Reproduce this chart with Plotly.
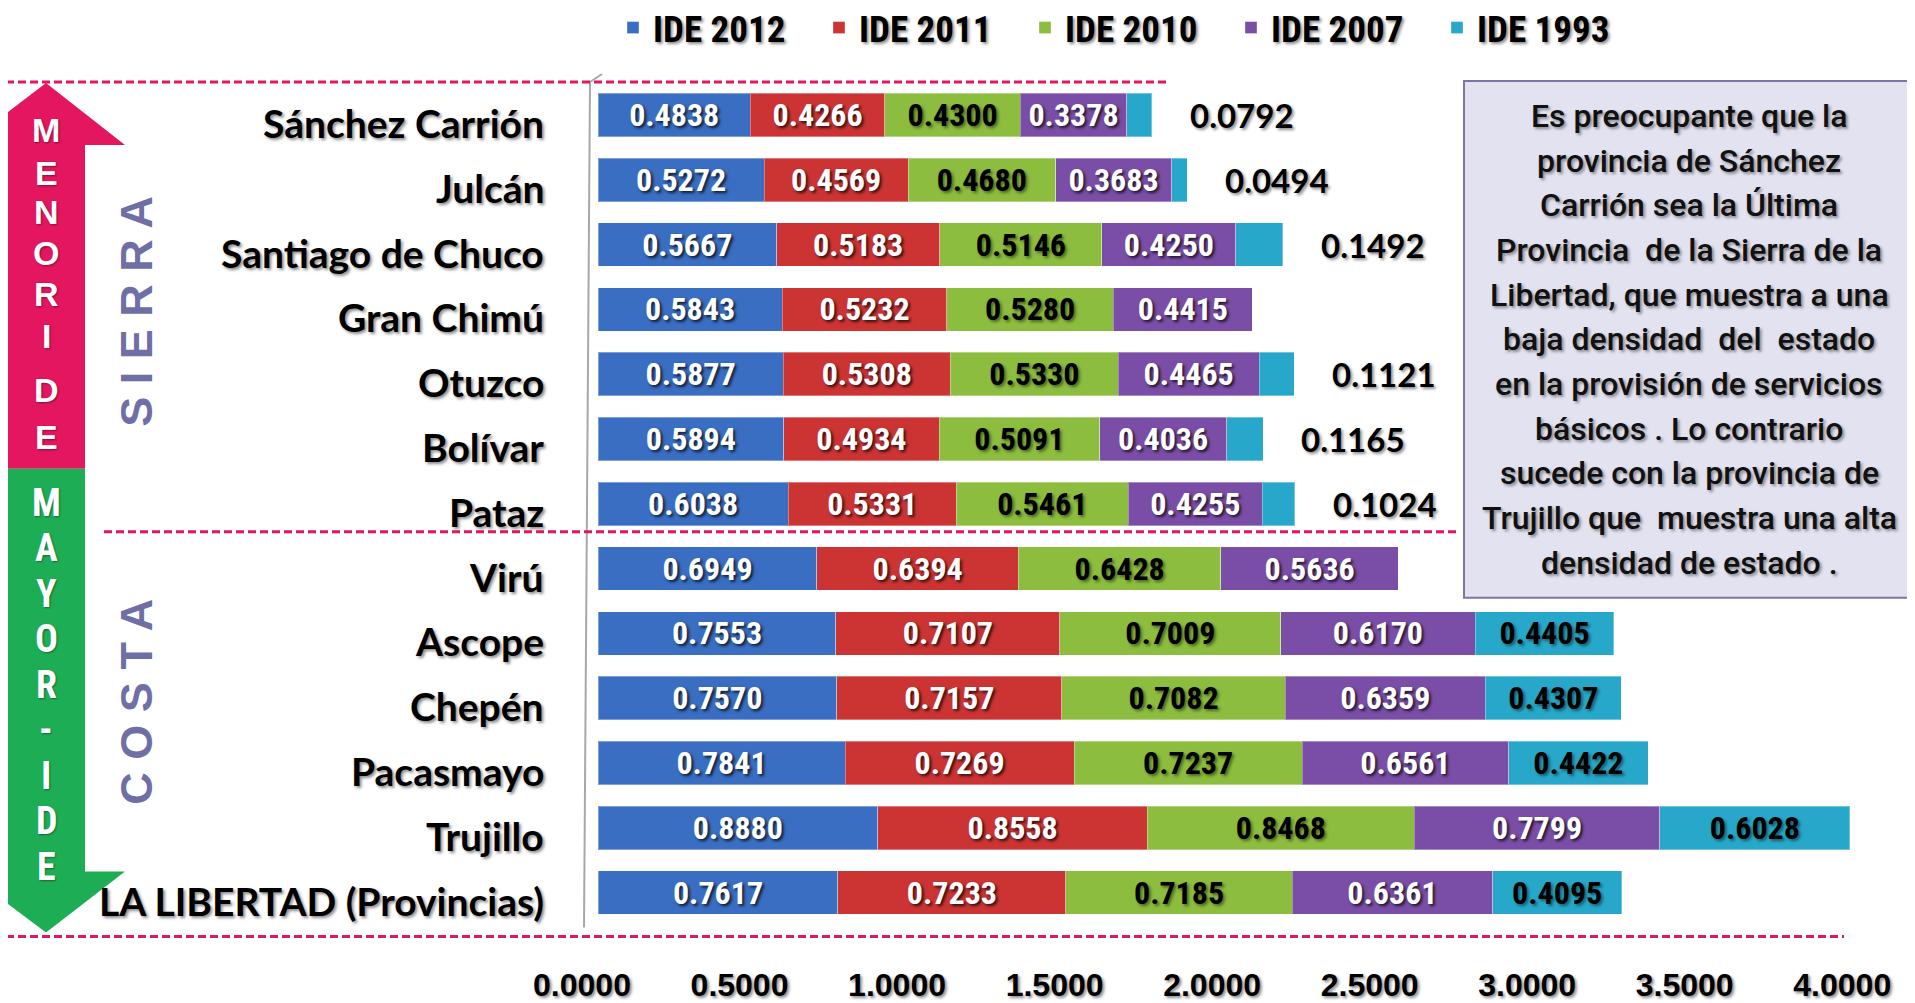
import plotly.graph_objects as go

# ---------------- data ----------------
provincias = ["Sánchez Carrión", "Julcán", "Santiago de Chuco", "Gran Chimú", "Otuzco",
              "Bolívar", "Pataz", "Virú", "Ascope", "Chepén", "Pacasmayo", "Trujillo",
              "LA LIBERTAD (Provincias)"]
ide_2012 = [0.4838, 0.5272, 0.5667, 0.5843, 0.5877, 0.5894, 0.6038, 0.6949, 0.7553, 0.7570, 0.7841, 0.8880, 0.7617]
ide_2011 = [0.4266, 0.4569, 0.5183, 0.5232, 0.5308, 0.4934, 0.5331, 0.6394, 0.7107, 0.7157, 0.7269, 0.8558, 0.7233]
ide_2010 = [0.4300, 0.4680, 0.5146, 0.5280, 0.5330, 0.5091, 0.5461, 0.6428, 0.7009, 0.7082, 0.7237, 0.8468, 0.7185]
ide_2007 = [0.3378, 0.3683, 0.4250, 0.4415, 0.4465, 0.4036, 0.4255, 0.5636, 0.6170, 0.6359, 0.6561, 0.7799, 0.6361]
ide_1993 = [0.0792, 0.0494, 0.1492, 0.0, 0.1121, 0.1165, 0.1024, 0.0, 0.4405, 0.4307, 0.4422, 0.6028, 0.4095]
sierra_n = 7  # first 7 provinces are Sierra, rest Costa
x_ticks = [0.0, 0.5, 1.0, 1.5, 2.0, 2.5, 3.0, 3.5, 4.0]

series = [
    ("IDE 2012", ide_2012, "#3A6EC2", "white"),
    ("IDE 2011", ide_2011, "#CC3434", "white"),
    ("IDE 2010", ide_2010, "#8CBD3E", "black"),
    ("IDE 2007", ide_2007, "#7A4EA6", "white"),
    ("IDE 1993", ide_1993, "#27A8CA", "black"),
]

note_lines = [
    "Es preocupante que la",
    "provincia de Sánchez",
    "Carrión sea la Última",
    "Provincia  de la Sierra de la",
    "Libertad, que muestra a una",
    "baja densidad  del  estado",
    "en la provisión de servicios",
    "básicos . Lo contrario",
    "sucede con la provincia de",
    "Trujillo que  muestra una alta",
    "densidad de estado .",
]

# ---------------- layout geometry ----------------
OFF = 8                      # default page margin around the figure
W, H = 1915 - OFF, 1003 - OFF
# plot area in page pixels
PL, PR, PT, PB = 598, 1874, 82, 925.5
L, R_, T, B = PL - OFF, W - (PR - OFF), PT - OFF, H - (PB - OFF)
PW, PH = PR - PL, PB - PT
XMAX = 4.05

def px(xpage):
    return (xpage - PL) / PW

def py(ypage):
    return (PB - ypage) / PH

NARROW = "Liberation Sans Narrow, Roboto Condensed, Arial Narrow, sans-serif"
LABEL = "Lato, Open Sans, sans-serif"
ARIAL = "Liberation Sans, Arial, sans-serif"
SH_W = "2px 2px 3px rgba(0,0,0,0.75)"
SH_B = "2px 2px 3px rgba(0,0,0,0.45)"

fig = go.Figure()
for i, (name, vals, color, tcol) in enumerate(series):
    if name == "IDE 1993":
        texts = ["" if (k < sierra_n or v == 0) else f"{v:.4f}" for k, v in enumerate(vals)]
    else:
        texts = [f"{v:.4f}" if v > 0 else "" for v in vals]
    fig.add_trace(go.Bar(
        y=provincias, x=vals, name=name, orientation="h",
        marker=dict(color=color, line=dict(color="rgba(255,255,255,0.35)", width=1)),
        text=texts, textposition="inside", insidetextanchor="middle", textangle=0,
        constraintext="none",
        textfont=dict(family=NARROW, size=32, color=tcol, weight="bold",
                      shadow=SH_W if tcol == "white" else SH_B),
        hoverinfo="x+y+name",
    ))

annotations = []
# outside labels for small Sierra IDE 1993 values
for k in range(sierra_n):
    v = ide_1993[k]
    if v > 0:
        total = ide_2012[k] + ide_2011[k] + ide_2010[k] + ide_2007[k] + v
        annotations.append(dict(x=total, y=provincias[k], xref="x", yref="y",
                                text=f"{v:.4f}", showarrow=False, xanchor="left",
                                yanchor="middle", xshift=36,
                                font=dict(family=LABEL, size=33, color="black",
                                          weight="bold", shadow=SH_B)))
# row labels
for name in provincias:
    annotations.append(dict(x=0, y=name, xref="x", yref="y", text=name, showarrow=False,
                            xanchor="right", yanchor="middle", xshift=-52, yshift=-8,
                            font=dict(family=LABEL, size=39, color="black", weight="bold",
                                      shadow=SH_B)))
# arrow letters (page y positions)
pink_letters = list("MENORIDE")
pink_y = [130, 173, 212, 253, 294, 336, 390, 437]
for ch, yy in zip(pink_letters, pink_y):
    annotations.append(dict(x=px(46), y=py(yy), xref="paper", yref="paper", text=ch,
                            showarrow=False, xanchor="center", yanchor="middle",
                            font=dict(family=ARIAL, size=34, color="white", weight="bold",
                                      shadow="1px 1px 2px rgba(0,0,0,0.4)")))
green_letters = list("MAYOR-IDE")
for j, ch in enumerate(green_letters):
    yy = 503 + j * 45.5
    annotations.append(dict(x=px(46), y=py(yy), xref="paper", yref="paper", text=ch,
                            showarrow=False, xanchor="center", yanchor="middle",
                            font=dict(family=NARROW, size=38, color="white", weight="bold",
                                      shadow="1px 1px 2px rgba(0,0,0,0.4)")))
# SIERRA / COSTA
annotations.append(dict(x=px(137), y=py(311), xref="paper", yref="paper", text="S I E R R A",
                        textangle=-90, showarrow=False, xanchor="center", yanchor="middle",
                        font=dict(family=ARIAL, size=45, color="#6F6FA6", weight="bold")))
annotations.append(dict(x=px(137), y=py(702), xref="paper", yref="paper", text="C O S T A",
                        textangle=-90, showarrow=False, xanchor="center", yanchor="middle",
                        font=dict(family=ARIAL, size=45, color="#6F6FA6", weight="bold")))
# note box text
for j, line in enumerate(note_lines):
    yy = 116 + j * 44.7
    annotations.append(dict(x=px(1689), y=py(yy), xref="paper", yref="paper", text=line,
                            showarrow=False, xanchor="center", yanchor="middle",
                            font=dict(family="Roboto, sans-serif", size=32, color="#111111",
                                      weight=500, shadow="2px 2px 3px rgba(0,0,0,0.4)")))

shapes = []
pink = "#E3165F"
green = "#1DAE55"
# arrows
x0s, x1s, hl, hr, cx = 5, 85, -35, 125, 46
pink_path = (f"M {px(x0s)},{py(469)} L {px(x0s)},{py(145)} L {px(hl)},{py(145)} "
             f"L {px(cx)},{py(83)} L {px(hr)},{py(145)} L {px(x1s)},{py(145)} L {px(x1s)},{py(469)} Z")
green_path = (f"M {px(x0s)},{py(469)} L {px(x0s)},{py(872)} L {px(hl)},{py(872)} "
              f"L {px(cx)},{py(933)} L {px(hr)},{py(872)} L {px(x1s)},{py(872)} L {px(x1s)},{py(469)} Z")
shapes.append(dict(type="path", path=pink_path, xref="paper", yref="paper",
                   fillcolor=pink, line=dict(width=0), layer="below"))
shapes.append(dict(type="path", path=green_path, xref="paper", yref="paper",
                   fillcolor=green, line=dict(width=0), layer="below"))
# back wall line (3D chart frame)
shapes.append(dict(type="line", xref="paper", yref="paper", x0=px(590), x1=px(584),
                   y0=py(82), y1=py(928), line=dict(color="#A8A8A8", width=2), layer="below"))
shapes.append(dict(type="line", xref="paper", yref="paper", x0=px(590), x1=px(602),
                   y0=py(82), y1=py(74), line=dict(color="#A8A8A8", width=2), layer="below"))
# dashed separators
for (xa, xb, yy) in [(6, 1166, 82), (104, 1458, 532), (6, 1844, 937)]:
    shapes.append(dict(type="line", xref="paper", yref="paper", x0=px(xa), x1=px(xb),
                       y0=py(yy), y1=py(yy), line=dict(color=pink, width=3, dash="8px,4px")))
# note box
shapes.append(dict(type="rect", xref="paper", yref="paper", x0=px(1464), x1=px(1913),
                   y0=py(81), y1=py(598), fillcolor="#E2E2F1",
                   line=dict(color="#7E74A6", width=2)))

fig.update_layout(
    width=W, height=H,
    margin=dict(l=L, r=R_, t=T, b=B, autoexpand=False),
    barmode="stack", bargap=0.33,
    paper_bgcolor="white", plot_bgcolor="white",
    showlegend=True,
    legend=dict(orientation="h", xref="container", yref="container", traceorder="normal",
                x=605 / W, y=1 - 20 / H, xanchor="left", yanchor="middle",
                entrywidth=161, itemwidth=30,
                font=dict(family=NARROW, size=37, color="black", weight="bold",
                          shadow="2px 2px 3px rgba(0,0,0,0.45)"),
                bgcolor="rgba(0,0,0,0)"),
    xaxis=dict(range=[0, XMAX], tickvals=x_ticks, ticktext=[f"{t:.4f}" for t in x_ticks],
               showgrid=False, zeroline=False, showline=False, ticks="", automargin=False,
               ticklabelstandoff=38, ticklabelshift=-16,
               tickfont=dict(family=ARIAL, size=32, color="black", weight="bold",
                             shadow="2px 2px 3px rgba(0,0,0,0.45)")),
    yaxis=dict(type="category", categoryorder="array", categoryarray=provincias,
               autorange="reversed", showticklabels=False, showgrid=False, zeroline=False,
               showline=False, automargin=False),
    annotations=annotations,
    shapes=shapes,
    uniformtext=dict(mode=False),
)

fig.write_html("out.html")
